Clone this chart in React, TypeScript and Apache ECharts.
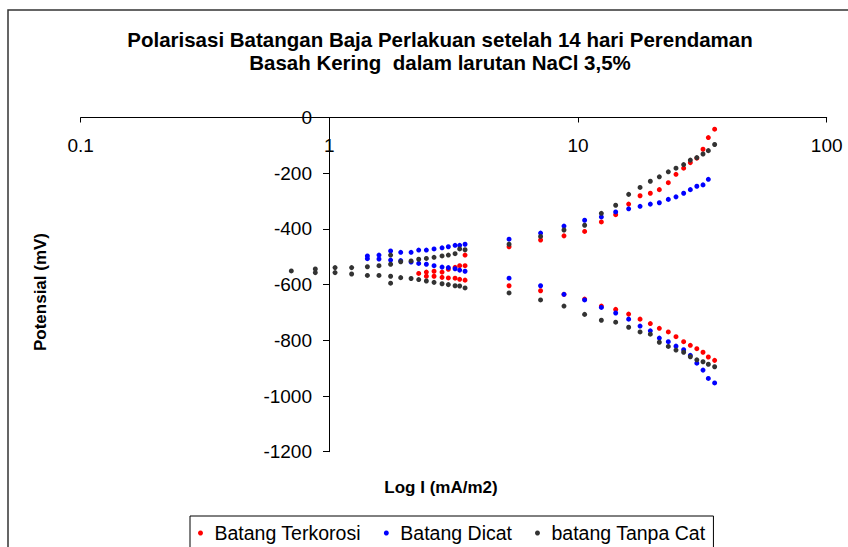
import React, { useEffect, useRef } from "react";
import * as echarts from "echarts";

const FONT = '"Liberation Sans", Arial, Helvetica, sans-serif';

const titleLines = [
  "Polarisasi Batangan Baja Perlakuan setelah 14 hari Perendaman",
  "Basah Kering  dalam larutan NaCl 3,5%",
];
const seriesNames = ["Batang Terkorosi", "Batang Dicat", "batang Tanpa Cat"];
const seriesColors = ["#ff0000", "#0000ff", "#333333"];
const xAxisTitle = "Log I (mA/m2)";
const yAxisTitle = "Potensial (mV)";

// [current (mA/m2), potential (mV)]
const terkorosiAnodic: [number, number][] = [
  [2.287, -560], [2.455, -555], [2.636, -552], [2.839, -555], [3.009, -545],
  [3.203, -538], [3.342, -532], [3.513, -532], [3.513, -494], [5.28, -464],
  [7.07, -440], [8.78, -425], [10.63, -409], [12.41, -375], [14.17, -349],
  [15.98, -311], [17.76, -281], [19.53, -272], [21.23, -259], [23.07, -234],
  [24.77, -204], [26.59, -182], [28.29, -162], [30.04, -146], [31.81, -114],
  [33.42, -72], [35.43, -42],
];
const terkorosiCathodic: [number, number][] = [
  [2.455, -570], [2.636, -570], [2.839, -574], [3.009, -576], [3.203, -577],
  [3.342, -581], [3.513, -584], [5.28, -604], [7.07, -622], [8.78, -635],
  [10.63, -652], [12.41, -677], [14.17, -689], [15.98, -706], [17.76, -724],
  [19.53, -740], [21.23, -757], [23.07, -770], [24.77, -787], [26.59, -805],
  [28.29, -818], [30.04, -830], [31.81, -843], [33.42, -860], [35.43, -872],
];
const dicatAnodic: [number, number][] = [
  [1.422, -497], [1.583, -494], [1.763, -479], [1.936, -484], [2.131, -484],
  [2.287, -476], [2.455, -476], [2.636, -472], [2.839, -468], [3.009, -464],
  [3.203, -459], [3.342, -459], [3.513, -455], [5.28, -437], [7.07, -415],
  [8.78, -390], [10.63, -369], [12.41, -357], [14.17, -339], [15.98, -328],
  [17.76, -319], [19.53, -311], [21.23, -306], [23.07, -294], [24.77, -285],
  [26.59, -272], [28.29, -259], [30.04, -247], [31.81, -242], [33.42, -222],
];
const dicatCathodic: [number, number][] = [
  [1.422, -507], [1.583, -508], [1.763, -512], [1.936, -514], [2.131, -519],
  [2.287, -524], [2.455, -527], [2.636, -532], [2.839, -537], [3.009, -539],
  [3.203, -543], [3.342, -548], [3.513, -552], [5.28, -577], [7.07, -604],
  [8.78, -635], [10.63, -655], [12.41, -682], [14.17, -702], [15.98, -724],
  [17.76, -749], [19.53, -766], [21.23, -792], [23.07, -805], [24.77, -821],
  [26.59, -834], [28.29, -854], [30.04, -882], [31.81, -907], [33.42, -937],
  [35.43, -953],
];
const tanpaCatAnodic: [number, number][] = [
  [0.703, -551], [0.878, -544], [1.054, -539], [1.229, -539], [1.422, -536],
  [1.583, -532], [1.763, -527], [1.763, -494], [1.936, -518], [2.131, -515],
  [2.287, -509], [2.455, -506], [2.636, -502], [2.839, -497], [3.009, -494],
  [3.203, -489], [3.342, -472], [3.513, -475], [5.28, -455], [7.07, -427],
  [8.78, -404], [10.63, -387], [12.41, -344], [14.17, -315], [15.98, -276],
  [17.76, -251], [19.53, -229], [21.23, -213], [23.07, -195], [24.77, -182],
  [26.59, -169], [28.29, -153], [30.04, -144], [31.81, -131], [33.42, -119],
  [35.43, -97],
];
const tanpaCatCathodic: [number, number][] = [
  [0.878, -557], [1.054, -557], [1.229, -562], [1.422, -567], [1.583, -567],
  [1.763, -570], [1.763, -595], [1.936, -575], [2.131, -578], [2.287, -582],
  [2.455, -587], [2.636, -592], [2.839, -597], [3.009, -600], [3.203, -604],
  [3.342, -605], [3.513, -612], [5.28, -630], [7.07, -655], [8.78, -677],
  [10.63, -707], [12.41, -728], [14.17, -735], [15.98, -753], [17.76, -770],
  [19.53, -778], [21.23, -807], [23.07, -822], [24.77, -835], [26.59, -843],
  [28.29, -859], [30.04, -870], [31.81, -877], [33.42, -886], [35.43, -895],
];

const seriesData = [
  [...terkorosiAnodic, ...terkorosiCathodic],
  [...dicatAnodic, ...dicatCathodic],
  [...tanpaCatAnodic, ...tanpaCatCathodic],
];

export default function App() {
  const ref = useRef<HTMLDivElement>(null);
  useEffect(() => {
    const chart = echarts.init(ref.current!, null, { renderer: "svg" });
    chart.setOption({
      animation: false,
      backgroundColor: "#ffffff",
      title: {
        text: titleLines.join("\n"),
        left: 435,
        top: 23,
        textAlign: "center",
        textStyle: {
          fontFamily: FONT,
          fontSize: 20.5,
          fontWeight: "bold",
          color: "#000",
          lineHeight: 23,
        },
      },
      grid: { left: 80.7, right: 21.3, top: 117.5, bottom: 95.3, containLabel: false },
      xAxis: {
        type: "log",
        logBase: 10,
        min: 0.1,
        max: 100,
        position: "top",
        axisLine: { onZero: false, lineStyle: { color: "#000", width: 1 } },
        axisTick: { inside: true, length: 5, lineStyle: { color: "#000" } },
        axisLabel: {
          inside: true,
          margin: 18,
          fontFamily: FONT,
          fontSize: 19,
          color: "#000",
        },
        splitLine: { show: false },
      },
      yAxis: {
        type: "value",
        min: -1200,
        max: 0,
        interval: 200,
        position: "left",
        offset: -248.3,
        axisLine: { show: true, onZero: false, lineStyle: { color: "#000", width: 1 } },
        axisTick: { show: true, inside: false, length: 6, lineStyle: { color: "#000" } },
        axisLabel: {
          margin: 17,
          fontFamily: FONT,
          fontSize: 19,
          color: "#000",
          formatter: (v: number) => String(v),
        },
        splitLine: { show: false },
      },
      legend: {
        data: seriesNames,
        left: 190,
        top: 516,
        orient: "horizontal",
        icon: "circle",
        itemWidth: 18,
        itemHeight: 5,
        itemGap: 23,
        padding: [7, 8, 8, 8],
        borderColor: "#000",
        borderWidth: 1,
        textStyle: { fontFamily: FONT, fontSize: 19.5, color: "#000", lineHeight: 20 },
      },
      graphic: [
        {
          type: "rect",
          shape: { x: 8, y: 10, width: 900, height: 600 },
          style: { fill: "none", stroke: "#333", lineWidth: 1.5 },
          silent: true,
          z: -1,
        },
        {
          type: "text",
          x: 40,
          y: 292,
          rotation: Math.PI / 2,
          style: {
            text: yAxisTitle,
            fontFamily: FONT,
            fontSize: 17,
            fontWeight: "bold",
            fill: "#000",
            align: "center",
            verticalAlign: "middle",
          },
        },
        {
          type: "text",
          x: 441,
          y: 487,
          style: {
            text: xAxisTitle,
            fontFamily: FONT,
            fontSize: 17,
            fontWeight: "bold",
            fill: "#000",
            align: "center",
            verticalAlign: "middle",
          },
        },
      ],
      series: seriesNames.map((name, i) => ({
        name,
        type: "scatter",
        symbol: "circle",
        symbolSize: 5,
        itemStyle: { color: seriesColors[i], opacity: 1 },
        data: seriesData[i],
      })),
    });
    return () => chart.dispose();
  }, []);
  return (
    <div
      ref={ref}
      style={{ position: "fixed", left: 0, top: 0, width: 848, height: 547, background: "#fff" }}
    />
  );
}
